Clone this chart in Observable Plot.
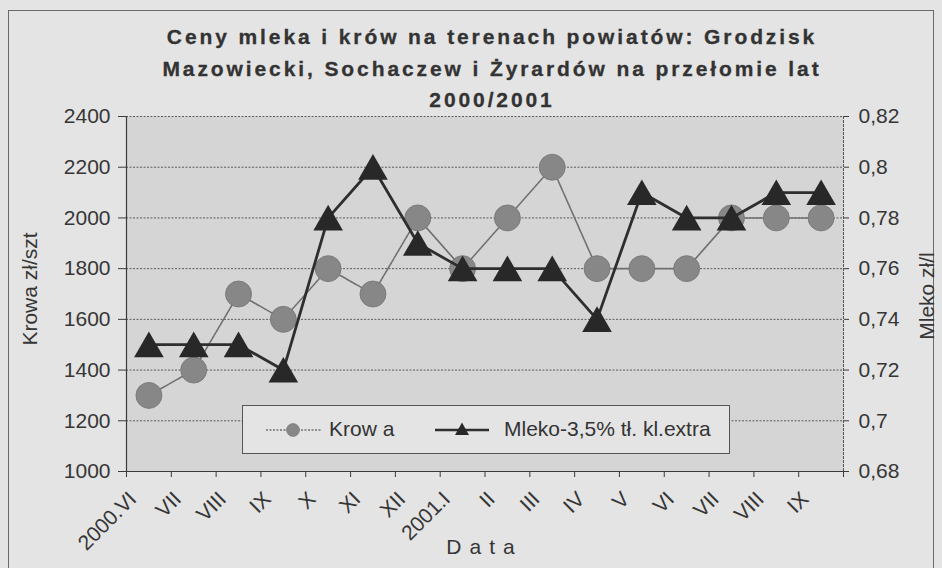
<!DOCTYPE html>
<html>
<head>
<meta charset="utf-8">
<script src="https://cdn.jsdelivr.net/npm/d3@7"></script>
<script src="https://cdn.jsdelivr.net/npm/@observablehq/plot@0.6"></script>
<style>
  html, body { margin: 0; padding: 0; background: #e4e4e4; }
  #wrap { position: relative; width: 942px; height: 568px; overflow: hidden; background: #e4e4e4;
          font-family: "Liberation Sans", Arial, sans-serif; color: #363636; }
  #border { position: absolute; left: 8px; top: 10px; width: 926px; height: 600px; border: 1px solid #6a6a6a; box-sizing: border-box; }
  #chart { position: absolute; left: 0; top: 0; }
  #title { position: absolute; left: 42px; width: 900px; top: 21px; text-align: center; font-weight: bold;
           font-size: 21px; line-height: 31.5px; letter-spacing: 2.9px; color: #333; -webkit-text-stroke: 0.3px #333; }
  #legend { position: absolute; left: 242px; top: 405px; width: 488px; height: 49px; box-sizing: border-box;
            border: 1px solid #555; background: #e4e4e4; font-size: 21px; }
  #legend svg, #legend span { position: absolute; }
  #legend span { top: 11px; line-height: 24px; white-space: nowrap; color: #333; }
  #xtitle { position: absolute; left: 126px; width: 717px; top: 535px; text-align: center; font-size: 21px; letter-spacing: 8px; color: #363636; }
</style>
</head>
<body>
<div id="wrap">
  <div id="border"></div>
  <div id="chart"></div>
  <div id="title"></div>
  <div id="legend"></div>
  <div id="xtitle"></div>
</div>
<script>
// ---- data ----
const titleLines = ["Ceny mleka i krów na terenach powiatów: Grodzisk", "Mazowiecki, Sochaczew i Żyrardów na przełomie lat", "2000/2001"];
const months = ["2000.VI", "VII", "VIII", "IX", "X", "XI", "XII", "2001.I", "II", "III", "IV", "V", "VI", "VII", "VIII", "IX"];
const krowa = [1300, 1400, 1700, 1600, 1800, 1700, 2000, 1800, 2000, 2200, 1800, 1800, 1800, 2000, 2000, 2000];
const mleko = [0.73, 0.73, 0.73, 0.72, 0.78, 0.80, 0.77, 0.76, 0.76, 0.76, 0.74, 0.79, 0.78, 0.78, 0.79, 0.79];
const krowaTicks = [1000, 1200, 1400, 1600, 1800, 2000, 2200, 2400];
const mlekoTicks = [0.68, 0.70, 0.72, 0.74, 0.76, 0.78, 0.80, 0.82];
const mlekoTickLabels = ["0,68", "0,7", "0,72", "0,74", "0,76", "0,78", "0,8", "0,82"];
const seriesNames = ["Krow a", "Mleko-3,5% tł. kl.extra"];
const yLeftTitle = "Krowa zł/szt";
const yRightTitle = "Mleko zł/l";
const xTitle = "Data";

// secondary (right) axis domain mapped onto primary scale
const leftDomain = [1000, 2400];
const rightDomain = [0.68, 0.82];
const toLeft = m => leftDomain[0] + (m - rightDomain[0]) / (rightDomain[1] - rightDomain[0]) * (leftDomain[1] - leftDomain[0]);
const rightTickVals = mlekoTicks.map(toLeft);
const rightLabel = d => mlekoTickLabels[rightTickVals.findIndex(v => Math.abs(v - d) < 1e-6)];

const rows = months.map((m, i) => ({i, month: m, krowa: krowa[i], mleko: mleko[i]}));

const plot = Plot.plot({
  width: 942, height: 568,
  marginLeft: 126, marginRight: 99, marginTop: 116, marginBottom: 97,
  x: {domain: [0, months.length], axis: null},
  y: {domain: leftDomain, axis: null},
  style: {background: "transparent", fontFamily: "'Liberation Sans', Arial, sans-serif", fontSize: "21px", color: "#363636", overflow: "visible"},
  marks: [
    Plot.frame({fill: "#d5d5d5", stroke: "none"}),
    Plot.gridY(krowaTicks, {stroke: "#5a5a5a", strokeOpacity: 1, strokeWidth: 1, strokeDasharray: "2,1.5"}),
    Plot.ruleX([0], {stroke: "#3a3a3a", strokeWidth: 1.2}),
    Plot.ruleX([months.length], {stroke: "#555", strokeWidth: 1, strokeDasharray: "3,1"}),
    Plot.ruleY([leftDomain[0]], {stroke: "#3a3a3a", strokeWidth: 1.2}),
    Plot.axisY(krowaTicks, {anchor: "left", tickSize: 8, tickPadding: 8, label: null, fontSize: 21, stroke: "#3a3a3a",
      tickFormat: d => String(d)}),
    Plot.axisY(rightTickVals, {anchor: "right", tickSize: 5, tickPadding: 10, label: null, fontSize: 21,
      tickFormat: rightLabel, stroke: "#3a3a3a"}),
    Plot.axisX(d3.range(months.length + 1), {anchor: "bottom", tickSize: 6, tickFormat: () => "", label: null, stroke: "#3a3a3a"}),
    Plot.text(rows, {x: d => d.i + 0.5, text: "month", frameAnchor: "bottom", rotate: -45, textAnchor: "end",
      lineAnchor: "middle", dx: -16, dy: 24, fontSize: 21, fill: "#363636"}),
    Plot.text([yLeftTitle], {text: d => d, frameAnchor: "left", textAnchor: "middle", rotate: -90, dx: -96, dy: -5, fontSize: 21, fill: "#363636"}),
    Plot.text([yRightTitle], {text: d => d, frameAnchor: "right", textAnchor: "middle", rotate: -90, dx: 84, dy: 2, fontSize: 21, fill: "#363636"}),
    Plot.line(rows, {x: d => d.i + 0.5, y: "krowa", stroke: "#707070", strokeWidth: 1.6, strokeDasharray: "3,1"}),
    Plot.dot(rows, {x: d => d.i + 0.5, y: "krowa", r: 13, fill: "#878787", stroke: "#737373", strokeWidth: 0.8}),
    Plot.line(rows, {x: d => d.i + 0.5, y: d => toLeft(d.mleko), stroke: "#2e2e2e", strokeWidth: 2.8}),
    Plot.dot(rows, {x: d => d.i + 0.5, y: d => toLeft(d.mleko), symbol: "triangle", r: 11, fill: "#282828", stroke: "none", dy: 4})
  ]
});
document.getElementById("chart").appendChild(plot);

document.getElementById("title").innerHTML = titleLines.join("<br>");
document.getElementById("xtitle").textContent = xTitle;

const legend = document.getElementById("legend");
legend.innerHTML = `
  <svg style="left:22px;top:12px" width="58" height="24">
    <line x1="1" y1="12" x2="57" y2="12" stroke="#707070" stroke-width="1.6" stroke-dasharray="2,1.5"/>
    <circle cx="28" cy="12" r="6.5" fill="#878787" stroke="#737373" stroke-width="0.6"/>
  </svg>
  <span style="left:86px">${seriesNames[0]}</span>
  <svg style="left:191px;top:12px" width="56" height="24">
    <line x1="1" y1="12" x2="55" y2="12" stroke="#2e2e2e" stroke-width="2.4"/>
    <path d="M28,4.5 L35,17 L21,17 Z" fill="#282828"/>
  </svg>
  <span style="left:261px">${seriesNames[1]}</span>`;
</script>
</body>
</html>
